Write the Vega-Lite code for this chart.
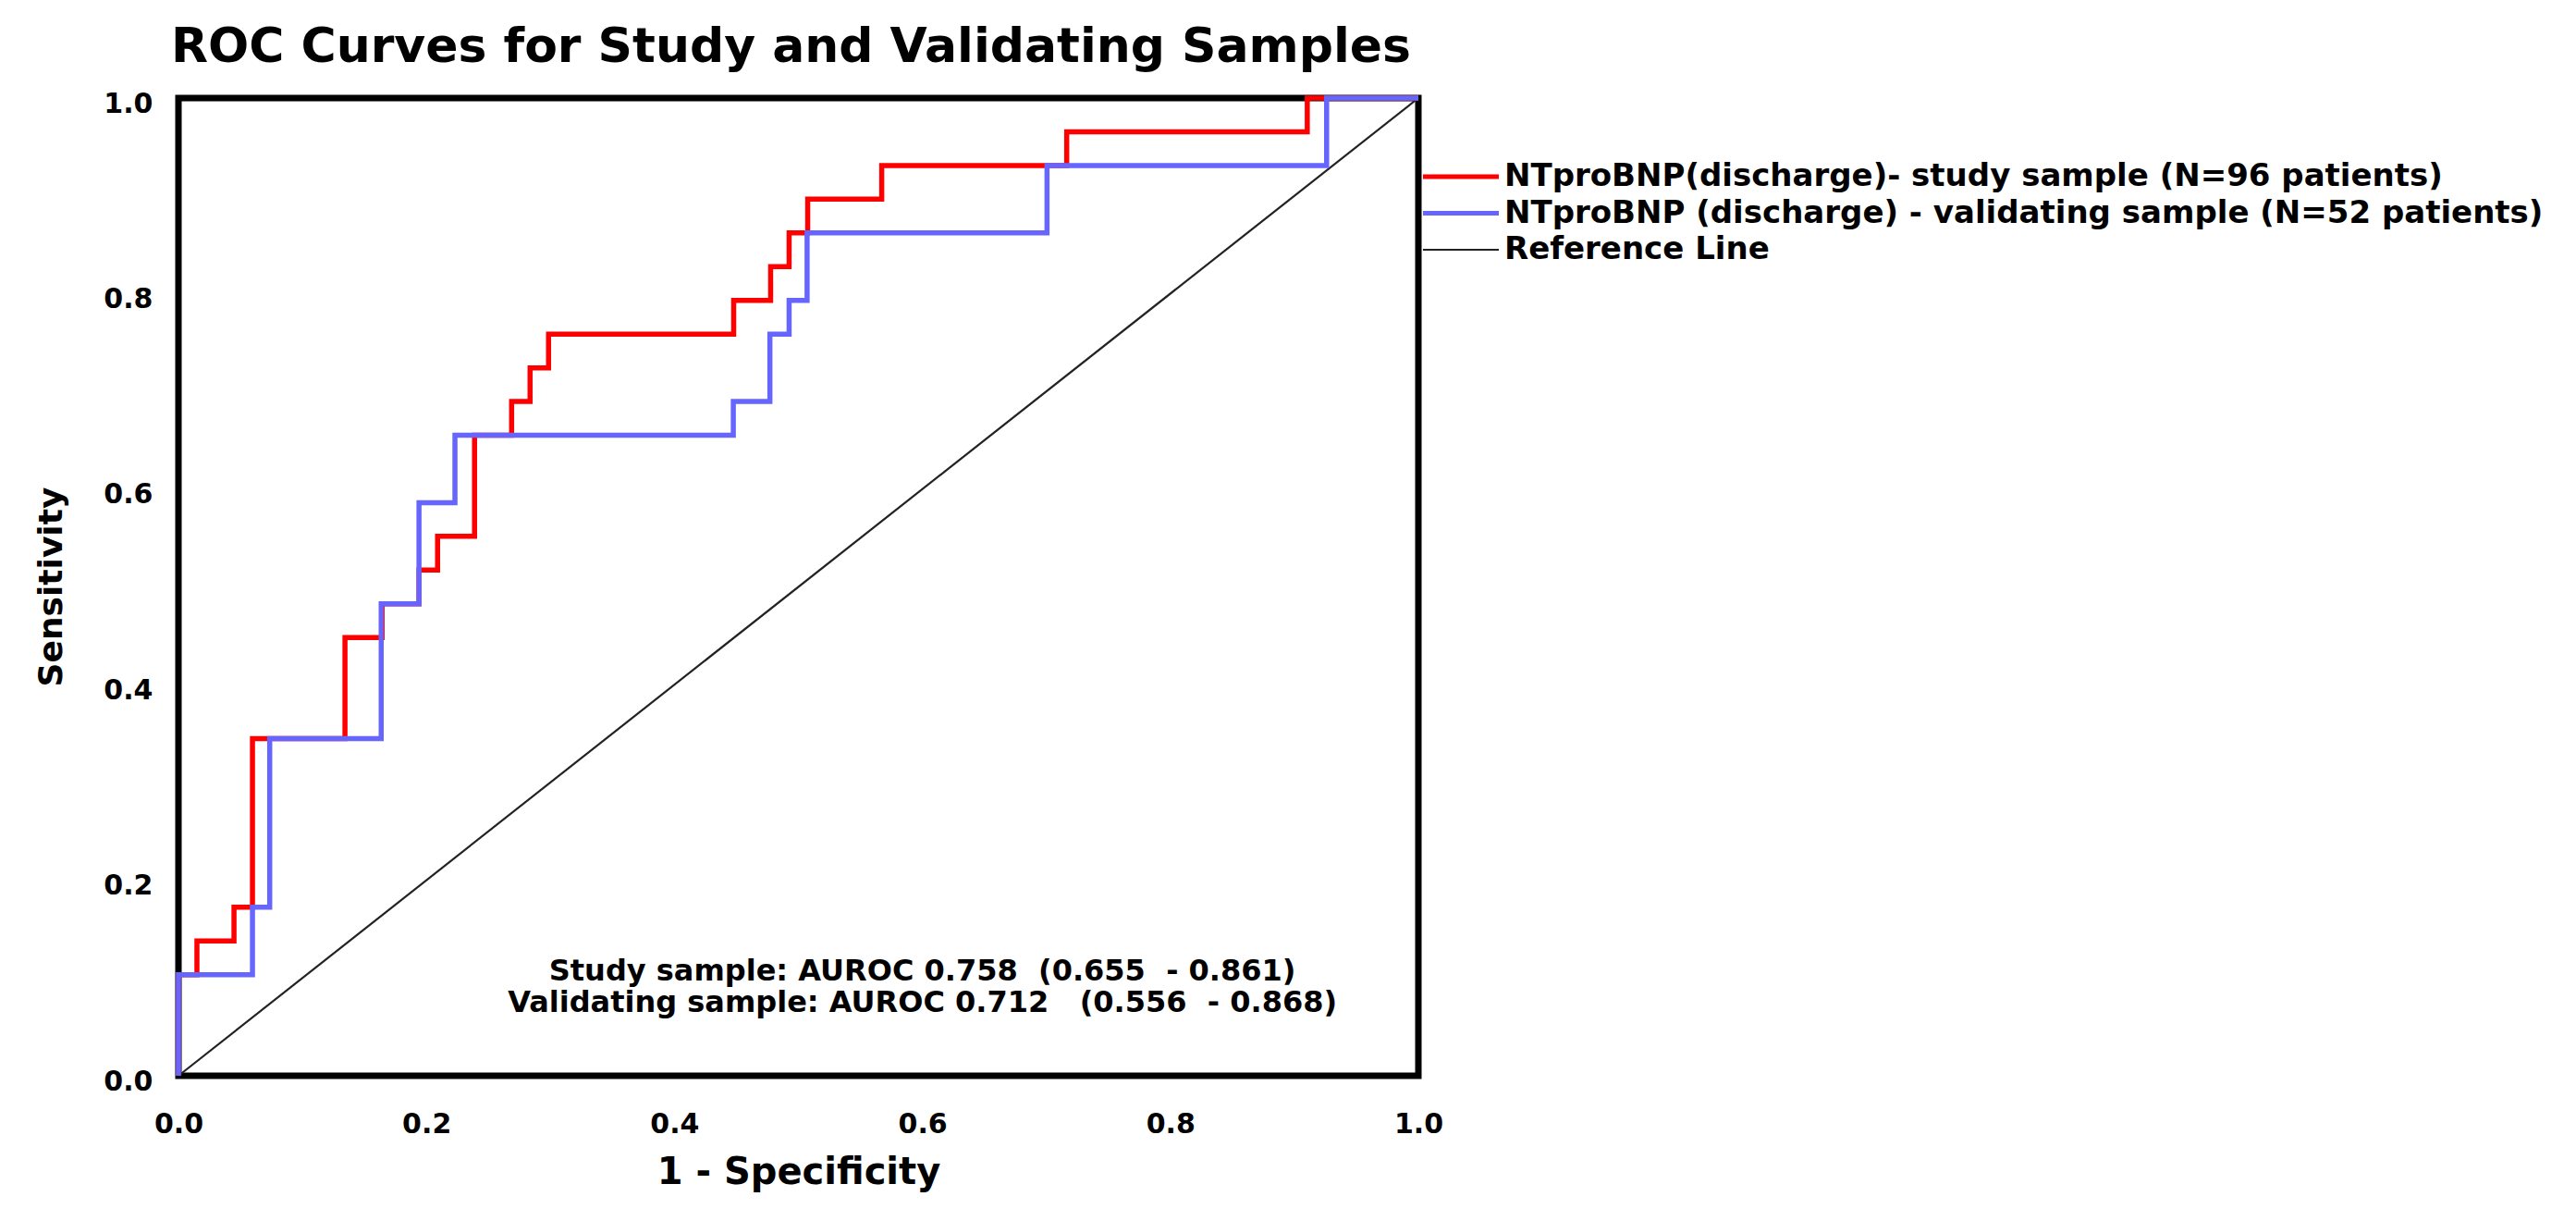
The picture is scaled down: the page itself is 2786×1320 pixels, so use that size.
{
  "$schema": "https://vega.github.io/schema/vega-lite/v6.json",
  "autosize": {"type": "none"},
  "padding": {"left": 193, "top": 106, "right": 1252, "bottom": 157},
  "width": 1341,
  "height": 1057,
  "background": "white",
  "title": {"text": "ROC Curves for Study and Validating Samples", "font": "DejaVu Sans", "fontSize": 52, "fontWeight": "bold", "color": "black", "anchor": "middle", "frame": "group", "offset": 17, "dx": -8},
  "data": {"values": [
    {"series": "Reference Line", "i": 0, "fpr": 0, "sens": 0},
    {"series": "Reference Line", "i": 1, "fpr": 1, "sens": 1},
    {"series": "NTproBNP(discharge)- study sample (N=96 patients)", "i": 0, "fpr": 0, "sens": 0},
    {"series": "NTproBNP(discharge)- study sample (N=96 patients)", "i": 1, "fpr": 0, "sens": 0.1034},
    {"series": "NTproBNP(discharge)- study sample (N=96 patients)", "i": 2, "fpr": 0.0149, "sens": 0.1379},
    {"series": "NTproBNP(discharge)- study sample (N=96 patients)", "i": 3, "fpr": 0.0448, "sens": 0.1724},
    {"series": "NTproBNP(discharge)- study sample (N=96 patients)", "i": 4, "fpr": 0.0597, "sens": 0.3448},
    {"series": "NTproBNP(discharge)- study sample (N=96 patients)", "i": 5, "fpr": 0.1343, "sens": 0.4483},
    {"series": "NTproBNP(discharge)- study sample (N=96 patients)", "i": 6, "fpr": 0.1642, "sens": 0.4828},
    {"series": "NTproBNP(discharge)- study sample (N=96 patients)", "i": 7, "fpr": 0.1940, "sens": 0.5172},
    {"series": "NTproBNP(discharge)- study sample (N=96 patients)", "i": 8, "fpr": 0.2090, "sens": 0.5517},
    {"series": "NTproBNP(discharge)- study sample (N=96 patients)", "i": 9, "fpr": 0.2388, "sens": 0.6552},
    {"series": "NTproBNP(discharge)- study sample (N=96 patients)", "i": 10, "fpr": 0.2687, "sens": 0.6897},
    {"series": "NTproBNP(discharge)- study sample (N=96 patients)", "i": 11, "fpr": 0.2836, "sens": 0.7241},
    {"series": "NTproBNP(discharge)- study sample (N=96 patients)", "i": 12, "fpr": 0.2985, "sens": 0.7586},
    {"series": "NTproBNP(discharge)- study sample (N=96 patients)", "i": 13, "fpr": 0.4478, "sens": 0.7931},
    {"series": "NTproBNP(discharge)- study sample (N=96 patients)", "i": 14, "fpr": 0.4776, "sens": 0.8276},
    {"series": "NTproBNP(discharge)- study sample (N=96 patients)", "i": 15, "fpr": 0.4925, "sens": 0.8621},
    {"series": "NTproBNP(discharge)- study sample (N=96 patients)", "i": 16, "fpr": 0.5075, "sens": 0.8966},
    {"series": "NTproBNP(discharge)- study sample (N=96 patients)", "i": 17, "fpr": 0.5672, "sens": 0.9310},
    {"series": "NTproBNP(discharge)- study sample (N=96 patients)", "i": 18, "fpr": 0.7164, "sens": 0.9655},
    {"series": "NTproBNP(discharge)- study sample (N=96 patients)", "i": 19, "fpr": 0.9104, "sens": 1.0},
    {"series": "NTproBNP(discharge)- study sample (N=96 patients)", "i": 20, "fpr": 1.0, "sens": 1.0},
    {"series": "NTproBNP (discharge) - validating sample (N=52 patients)", "i": 0, "fpr": 0, "sens": 0},
    {"series": "NTproBNP (discharge) - validating sample (N=52 patients)", "i": 1, "fpr": 0, "sens": 0.1034},
    {"series": "NTproBNP (discharge) - validating sample (N=52 patients)", "i": 2, "fpr": 0.0597, "sens": 0.1724},
    {"series": "NTproBNP (discharge) - validating sample (N=52 patients)", "i": 3, "fpr": 0.0736, "sens": 0.3448},
    {"series": "NTproBNP (discharge) - validating sample (N=52 patients)", "i": 4, "fpr": 0.1635, "sens": 0.4828},
    {"series": "NTproBNP (discharge) - validating sample (N=52 patients)", "i": 5, "fpr": 0.1940, "sens": 0.5862},
    {"series": "NTproBNP (discharge) - validating sample (N=52 patients)", "i": 6, "fpr": 0.2230, "sens": 0.6552},
    {"series": "NTproBNP (discharge) - validating sample (N=52 patients)", "i": 7, "fpr": 0.4475, "sens": 0.6897},
    {"series": "NTproBNP (discharge) - validating sample (N=52 patients)", "i": 8, "fpr": 0.4770, "sens": 0.7586},
    {"series": "NTproBNP (discharge) - validating sample (N=52 patients)", "i": 9, "fpr": 0.4925, "sens": 0.7931},
    {"series": "NTproBNP (discharge) - validating sample (N=52 patients)", "i": 10, "fpr": 0.5070, "sens": 0.8621},
    {"series": "NTproBNP (discharge) - validating sample (N=52 patients)", "i": 11, "fpr": 0.7005, "sens": 0.9310},
    {"series": "NTproBNP (discharge) - validating sample (N=52 patients)", "i": 12, "fpr": 0.9260, "sens": 1.0},
    {"series": "NTproBNP (discharge) - validating sample (N=52 patients)", "i": 13, "fpr": 1.0, "sens": 1.0}
  ]},
  "layer": [
    {
      "transform": [{"filter": "datum.series === 'Reference Line'"}],
      "mark": {"type": "line", "strokeWidth": 2.2, "interpolate": "linear"},
      "encoding": {
        "x": {"field": "fpr", "type": "quantitative", "scale": {"domain": [0, 1], "nice": false},
          "axis": {"title": "1 - Specificity", "values": [0, 0.2, 0.4, 0.6, 0.8, 1.0], "format": ".1f", "ticks": false, "domain": false, "grid": false, "labelFlush": false, "labelOverlap": false, "labelFont": "DejaVu Sans", "labelFontSize": 30, "labelFontWeight": "bold", "labelColor": "black", "labelPadding": 37, "titleFont": "DejaVu Sans", "titleFontSize": 40, "titleFontWeight": "bold", "titleColor": "black", "titleBaseline": "alphabetic", "titleY": 116}},
        "y": {"field": "sens", "type": "quantitative", "scale": {"domain": [0, 1], "nice": false},
          "axis": {"title": "Sensitivity", "values": [0, 0.2, 0.4, 0.6, 0.8, 1.0], "format": ".1f", "ticks": false, "domain": false, "grid": false, "labelFlush": false, "labelOverlap": false, "labelFont": "DejaVu Sans", "labelFontSize": 30, "labelFontWeight": "bold", "labelColor": "black", "labelPadding": 28, "labelOffset": 6, "titleFont": "DejaVu Sans", "titleFontSize": 36, "titleFontWeight": "bold", "titleColor": "black", "titleAngle": 270, "titleBaseline": "middle", "titleX": -138, "titleY": 528}},
        "color": {"field": "series", "type": "nominal",
          "scale": {"domain": ["NTproBNP(discharge)- study sample (N=96 patients)", "NTproBNP (discharge) - validating sample (N=52 patients)", "Reference Line"], "range": ["#ff0000", "#6666ff", "#222222"]},
          "legend": {"orient": "none", "legendX": 1370, "legendY": 68, "title": null, "symbolType": "M-2.5,0H2.5", "symbolSize": 1076, "symbolStrokeWidth": 5, "symbolOffset": 0, "symbolOpacity": 1, "labelFont": "DejaVu Sans", "labelFontSize": 34, "labelFontWeight": "bold", "labelColor": "black", "labelOffset": 30, "labelLimit": 3000, "rowPadding": 5.5, "padding": 0,
            "encode": {"symbols": {"update": {"strokeWidth": {"signal": "datum.value === 'Reference Line' ? 2 : 5"}, "fill": {"value": "transparent"}}}}}},
        "order": {"field": "i", "type": "quantitative"}
      }
    },
    {
      "transform": [{"filter": "datum.series === 'NTproBNP(discharge)- study sample (N=96 patients)'"}],
      "mark": {"type": "line", "strokeWidth": 5.5, "interpolate": "step-after"},
      "encoding": {
        "x": {"field": "fpr", "type": "quantitative"},
        "y": {"field": "sens", "type": "quantitative"},
        "color": {"field": "series", "type": "nominal"},
        "order": {"field": "i", "type": "quantitative"}
      }
    },
    {
      "transform": [{"filter": "datum.series === 'NTproBNP (discharge) - validating sample (N=52 patients)'"}],
      "mark": {"type": "line", "strokeWidth": 5.5, "interpolate": "step-after"},
      "encoding": {
        "x": {"field": "fpr", "type": "quantitative"},
        "y": {"field": "sens", "type": "quantitative"},
        "color": {"field": "series", "type": "nominal"},
        "order": {"field": "i", "type": "quantitative"}
      }
    },
    {
      "data": {"values": [{"note": "AUROC"}]},
      "mark": {"type": "text", "align": "center", "baseline": "alphabetic", "font": "DejaVu Sans", "fontSize": 32, "fontWeight": "bold", "color": "black", "lineHeight": 34},
      "encoding": {
        "x": {"datum": 0.6},
        "y": {"datum": 0.097},
        "text": {"value": ["Study sample: AUROC 0.758\u00a0\u00a0(0.655\u00a0\u00a0- 0.861)", "Validating sample: AUROC 0.712\u00a0\u00a0\u00a0(0.556\u00a0\u00a0- 0.868)"]}
      }
    }
  ],
  "config": {"font": "DejaVu Sans", "view": {"stroke": "black", "strokeWidth": 7}}
}
